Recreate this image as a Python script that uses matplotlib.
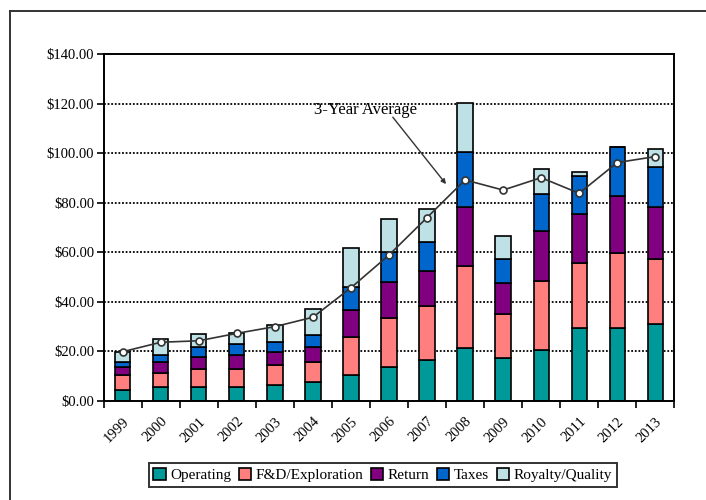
"""Stacked cost components per year with a 3-year average line."""

import matplotlib

matplotlib.use("Agg")
import matplotlib.pyplot as plt
import numpy as np
from matplotlib.lines import Line2D
from matplotlib.ticker import FuncFormatter, MultipleLocator

years = ["1999", "2000", "2001", "2002", "2003", "2004", "2005", "2006",
         "2007", "2008", "2009", "2010", "2011", "2012", "2013"]

# cumulative tops, converted to segment heights below
operating = [4.4, 5.8, 5.8, 5.8, 6.5, 7.8, 10.5, 13.9, 16.5, 21.2, 17.2, 20.6, 29.6, 29.6, 30.9]
fd_top = [10.5, 11.2, 12.9, 12.9, 14.5, 15.9, 26.0, 33.6, 38.3, 54.5, 35.0, 48.4, 55.8, 59.8, 57.2]
return_top = [13.9, 15.9, 17.9, 18.6, 19.9, 21.9, 36.8, 47.9, 52.4, 78.1, 47.7, 68.6, 75.3, 82.8, 78.1]
taxes_top = [15.9, 18.6, 21.9, 22.9, 23.9, 26.6, 45.8, 60.0, 64.0, 100.6, 57.3, 83.4, 90.8, 102.3, 94.3]
total = [19.9, 24.9, 27.0, 27.6, 30.7, 37.0, 61.9, 73.4, 77.5, 120.4, 66.7, 93.6, 92.5, 102.3, 101.7]
avg_3yr = [19.9, 23.7, 24.3, 27.3, 30.0, 33.8, 45.7, 58.9, 74.0, 89.2, 85.1, 90.1, 83.8, 96.2, 98.6]

series_names = ["Operating", "F&D/Exploration", "Return", "Taxes", "Royalty/Quality"]
colors = ["#009999", "#FF7F7F", "#800080", "#0066CC", "#BDE1E4"]


def main() -> None:
    plt.rcParams["font.family"] = ["Liberation Serif", "DejaVu Serif"]

    tops = np.array([operating, fd_top, return_top, taxes_top, total])
    heights = np.diff(np.vstack([np.zeros(len(years)), tops]), axis=0)
    x = np.arange(len(years))

    fig = plt.figure(figsize=(7.06, 5.0), dpi=100)
    ax = fig.add_axes([0.147, 0.198, 0.808, 0.694])

    for yv in range(20, 140, 20):
        ax.axhline(yv, color="black", ls=(0, (1, 1)), lw=1.3, zorder=0)

    bottom = np.zeros(len(years))
    for name, h, c in zip(series_names, heights, colors):
        ax.bar(x, h, width=0.4, bottom=bottom, color=c, edgecolor="black",
               linewidth=1.2, label=name, zorder=2)
        bottom += h

    ax.plot(x, avg_3yr, color="#333333", lw=1.2, marker="o", ms=5,
            mfc="white", mec="#333333", mew=1.2, zorder=3)

    ax.text(6.37, 117.5, "3-Year Average", ha="center", va="center", fontsize=12)
    ax.annotate("", xy=(8.5, 87.5), xytext=(7.1, 114.5),
                arrowprops=dict(arrowstyle="-|>", color="#333333", lw=1.0,
                                shrinkA=0, shrinkB=0, mutation_scale=7))

    ax.set_xlim(-0.5, len(years) - 0.5)
    ax.set_ylim(0, 140)
    ax.yaxis.set_major_locator(MultipleLocator(20))
    ax.yaxis.set_major_formatter(FuncFormatter(lambda v, _: f"${v:.2f}"))
    ax.set_xticks(x)
    ax.set_xticklabels(years, rotation=45, ha="right", rotation_mode="anchor")
    ax.set_xticks(np.arange(-0.5, len(years), 1.0), minor=True)
    ax.tick_params(axis="x", which="major", length=0, pad=10, labelsize=10.5)
    ax.tick_params(axis="x", which="minor", length=5, width=1.2, direction="out")
    ax.tick_params(axis="y", length=5, width=1.2, direction="out", labelsize=10.5, pad=2)
    for side in ax.spines.values():
        side.set_linewidth(1.4)

    leg = fig.legend(loc="center", bbox_to_anchor=(0.542, 0.05), ncol=5,
                     fontsize=11, frameon=True, fancybox=False, edgecolor="black",
                     handlelength=0.8, handleheight=0.8, handletextpad=0.3,
                     columnspacing=0.5, borderpad=0.3)
    leg.get_frame().set_linewidth(1.4)

    # outer chart border (cropped at right and bottom)
    fx0, fy1 = 10 / 706, 1 - 11 / 500
    fig.add_artist(Line2D([fx0, fx0], [0, fy1], color="#333333", lw=1.4))
    fig.add_artist(Line2D([fx0, 1], [fy1, fy1], color="#333333", lw=1.4))

    fig.savefig("out.png", dpi=100)
    plt.close(fig)


if __name__ == "__main__":
    main()
